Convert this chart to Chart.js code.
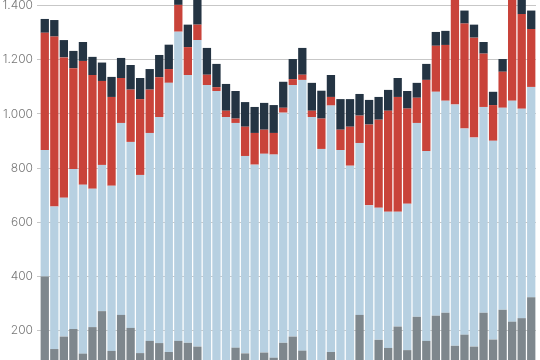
<!DOCTYPE html>
<html>
<head>
<meta charset="utf-8">
<script src="https://cdn.jsdelivr.net/npm/chart.js@4/dist/chart.umd.min.js"></script>
<style>
html,body{margin:0;padding:0;background:#fff;}
canvas{display:block;}
</style>
</head>
<body>
<canvas id="c" width="540" height="360"></canvas>
<script>
const categories = Array.from({length: 52}, (_, i) => String(i + 1));

const greySeries = [400,132,178,206,115,213,272,125,258,210,117,162,154,121,162,155,141,70,60,75,137,116,80,119,100,155,178,126,65,75,121,70,80,258,75,166,136,215,128,251,162,255,266,144,185,141,266,167,277,233,246,323];
const blueSeries = [467,526,513,591,624,511,540,610,709,687,658,768,835,994,1142,989,1132,1037,1025,914,830,729,733,734,750,850,929,1000,924,796,910,797,729,635,588,488,503,424,541,716,701,827,783,891,761,772,760,734,746,816,773,777];
const redSeries = [433,628,518,372,457,420,310,328,166,193,280,160,147,51,99,103,57,38,14,23,16,108,117,89,80,18,22,19,23,112,32,75,144,101,298,325,373,424,351,93,263,170,206,415,388,369,197,132,133,401,350,214];
const navySeries = [51,61,64,64,70,67,68,74,74,91,78,76,82,90,40,83,110,99,86,99,102,91,96,99,103,96,74,99,103,103,81,113,102,80,91,84,77,70,65,55,59,51,52,40,48,48,43,49,47,40,80,68];

const yTicks = [200, 400, 600, 800, 1000, 1200, 1400];

function fmt(v) {
  if (v >= 1000) {
    return Math.floor(v / 1000) + '.' + String(v % 1000).padStart(3, '0');
  }
  return String(v);
}

const common = {borderWidth: 0, barPercentage: 0.87, categoryPercentage: 1.0, stack: 's'};

new Chart(document.getElementById('c'), {
  type: 'bar',
  data: {
    labels: categories,
    datasets: [
      Object.assign({label: 'A', data: greySeries, backgroundColor: '#7e878d'}, common),
      Object.assign({label: 'B', data: blueSeries, backgroundColor: '#b7d0e1'}, common),
      Object.assign({label: 'C', data: redSeries, backgroundColor: '#c9433a'}, common),
      Object.assign({label: 'D', data: navySeries, backgroundColor: '#243443'}, common)
    ]
  },
  options: {
    responsive: false,
    devicePixelRatio: 1,
    animation: false,
    layout: {padding: {left: 0, right: 4, top: 0, bottom: 0}},
    plugins: {legend: {display: false}, tooltip: {enabled: false}, title: {display: false}},
    scales: {
      x: {display: false, stacked: true},
      y: {
        stacked: true,
        min: 91.5,
        max: 1421,
        position: 'left',
        z: 1,
        border: {display: false},
        grid: {color: 'rgba(0,0,0,0.22)', lineWidth: 1, tickLength: 3, drawTicks: true},
        ticks: {
          padding: 4,
          color: '#777777',
          font: {family: 'Inter, Lato, sans-serif', size: 12, weight: 300},
          callback: (v) => fmt(v)
        },
        afterBuildTicks: (s) => { s.ticks = yTicks.map(v => ({value: v})); },
        afterFit: (s) => { s.width = 40; s.paddingTop = 0; s.paddingBottom = 0; }
      }
    }
  }
});
</script>
</body>
</html>
